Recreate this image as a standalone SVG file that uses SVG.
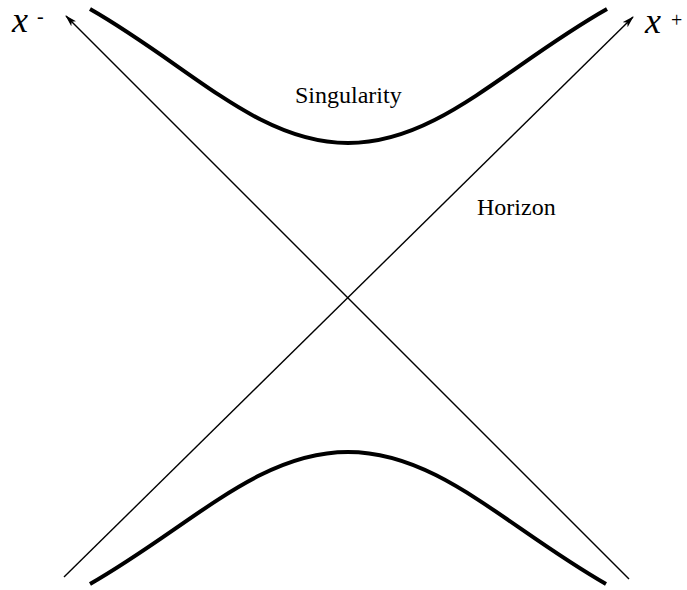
<svg xmlns="http://www.w3.org/2000/svg" width="687" height="590" viewBox="0 0 687 590">
<defs>
<marker id="arr" markerWidth="12" markerHeight="8" refX="11" refY="4" orient="auto" markerUnits="userSpaceOnUse">
<path d="M0,0.5 L12,4 L0,7.5 L3,4 Z" fill="#000"/>
</marker>
</defs>
<style>
.axis{stroke:#000;stroke-width:1.4;fill:none}
.curve{stroke:#000;stroke-width:4;fill:none;stroke-linecap:butt}
.lbl{font-family:"Liberation Serif","Times New Roman",serif;font-size:24px;fill:#000}
.var{font-family:"Liberation Serif","Times New Roman",serif;font-style:italic;font-size:36px;fill:#000}
.sup{font-family:"Liberation Serif","Times New Roman",serif;font-style:normal;font-size:20px;fill:#000}
</style>
<rect width="687" height="590" fill="#fff"/>
<g id="connectors">
<line class="axis" x1="629" y1="579" x2="66" y2="16" marker-end="url(#arr)"/>
<line class="axis" x1="64" y1="577" x2="633" y2="17" marker-end="url(#arr)"/>
</g>
<g id="singularity-upper">
<path class="curve" d="M90,9 C190,66 258,143 348,143 C438,143 506,66 607,9"/>
</g>
<g id="singularity-lower">
<path class="curve" d="M90,584 C190,527 258,452 348,452 C438,452 506,527 606,584"/>
</g>
<g id="label-xminus">
<text class="var" x="12" y="32">x</text>
<text class="sup" x="37" y="23">-</text>
</g>
<g id="label-xplus">
<text class="var" x="645" y="33">x</text>
<text class="sup" x="671" y="27">+</text>
</g>
<g id="label-singularity">
<text class="lbl" x="295" y="103">Singularity</text>
</g>
<g id="label-horizon">
<text class="lbl" x="477" y="215">Horizon</text>
</g>
</svg>
